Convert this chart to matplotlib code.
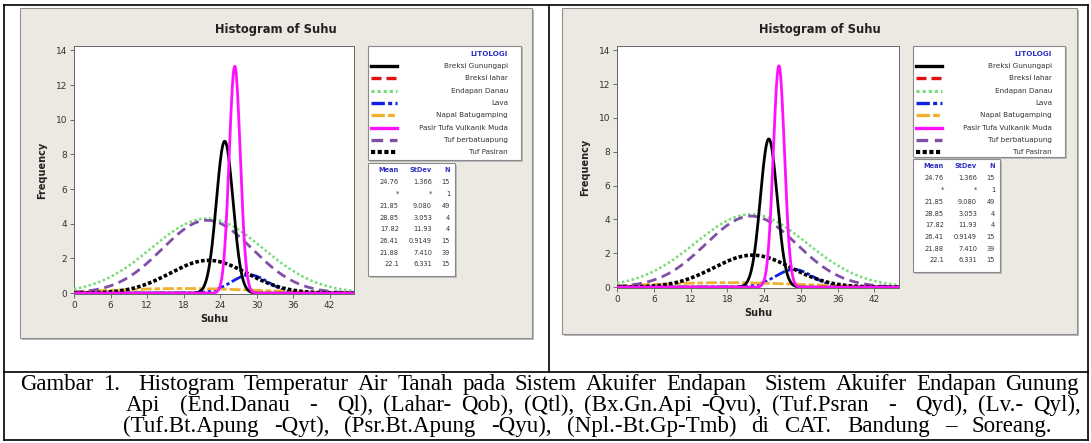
import re
import numpy as np
import matplotlib
matplotlib.use('Agg')
import matplotlib.pyplot as plt
from matplotlib.patches import Rectangle
from matplotlib.lines import Line2D

# fitted normal curves per rock unit (Minitab "Histogram of Suhu", with fit, grouped)
litologi = ['Breksi Gunungapi', 'Breksi lahar', 'Endapan Danau', 'Lava',
            'Napal Batugamping', 'Pasir Tufa Vulkanik Muda', 'Tuf berbatuapung',
            'Tuf Pasiran']
mean = [24.76, None, 21.85, 28.85, 17.82, 26.41, 21.88, 22.1]
stdev = [1.366, None, 9.080, 3.053, 11.93, 0.9149, 7.410, 6.331]
n_obs = [15, 1, 49, 4, 4, 15, 39, 15]
mean_txt = ['24.76', '*', '21.85', '28.85', '17.82', '26.41', '21.88', '22.1']
stdev_txt = ['1.366', '*', '9.080', '3.053', '11.93', '0.9149', '7.410', '6.331']
bin_width = 2.0

xticks = [0, 6, 12, 18, 24, 30, 36, 42]
yticks = [0, 2, 4, 6, 8, 10, 12, 14]

caption = [
    'Gambar 1.  Histogram Temperatur Air Tanah pada Sistem Akuifer Endapan  Sistem Akuifer Endapan Gunung',
    'Api  (End.Danau  -  Ql), (Lahar- Qob), (Qtl), (Bx.Gn.Api -Qvu), (Tuf.Psran  -  Qyd), (Lv.- Qyl),',
    '(Tuf.Bt.Apung -Qyt), (Psr.Bt.Apung -Qyu), (Npl.-Bt.Gp-Tmb) di CAT. Bandung \u2013 Soreang.',
]

colors = ['#000000', '#e01010', '#78dc78', '#1020e0', '#f0b030', '#ff10ff', '#8050a8', '#000000']
styles = ['-', (0, (3, 1.5)), (0, (1, 1)), (0, (4, 1, 1.2, 1)), (0, (4, 1, 2, 1)),
          '-', (0, (3.5, 2)), (0, (1, 0.6))]
widths = [2.0, 2.0, 1.8, 2.0, 2.0, 2.0, 2.0, 2.6]

W, H = 1091, 443
BG = '#ece9e2'


def fx(x):
    return x / W


def fy(y):
    return 1 - y / H


fig = plt.figure(figsize=(W / 100, H / 100), dpi=100)
fig.patch.set_facecolor('white')


def line(x0, y0, x1, y1, color='black', lw=1.2, ls='-'):
    fig.add_artist(Line2D([fx(x0), fx(x1)], [fy(y0), fy(y1)], color=color, lw=lw, ls=ls, zorder=3))


def box(x0, y0, x1, y1, **kw):
    fig.add_artist(Rectangle((fx(x0), fy(y1)), fx(x1) - fx(x0), fy(y0) - fy(y1),
                             transform=fig.transFigure, **kw))


def draw_panel(panel, axbox, leg, stat):
    px0, py0, px1, py1 = panel
    # shadowed gray background
    box(px0 + 2, py0 + 2, px1 + 2, py1 + 2, facecolor='#b8b8b8', edgecolor='none', zorder=-2)
    box(px0, py0, px1, py1, facecolor=BG, edgecolor='#909090', lw=0.8, zorder=-1)

    ax0, ay0, ax1, ay1 = axbox
    ax = fig.add_axes([fx(ax0), fy(ay1), fx(ax1) - fx(ax0), fy(ay0) - fy(ay1)])
    ax.set_zorder(1)
    ax.set_facecolor('white')
    xs = np.linspace(0, 46, 700)
    for i in range(len(litologi)):
        if mean[i] is None:
            continue
        ys = n_obs[i] * bin_width * np.exp(-0.5 * ((xs - mean[i]) / stdev[i]) ** 2) / (stdev[i] * np.sqrt(2 * np.pi))
        ax.plot(xs, ys, color=colors[i], ls=styles[i], lw=widths[i], zorder=3 + (i == 0 or i == 5))
    ax.set_xlim(0, 46)
    ax.set_ylim(-0.05, 14.25)
    ax.set_xticks(xticks)
    ax.set_yticks(yticks)
    ax.tick_params(direction='out', length=3, width=0.6, color='#555555',
                   labelsize=6.5, labelcolor='#333333', pad=2)
    for s in ax.spines.values():
        s.set_color('#666666')
        s.set_linewidth(0.7)
    ax.set_xlabel('Suhu', fontsize=7, fontweight='bold', color='#222222', labelpad=3)
    ax.set_ylabel('Frequency', fontsize=7, fontweight='bold', color='#222222', labelpad=6)
    fig.text(fx((px0 + px1) / 2), fy(30), 'Histogram of Suhu', ha='center', va='center',
             fontsize=8.3, fontweight='bold', color='#222222')

    # legend of rock units
    lx0, ly0, lx1, ly1 = leg
    box(lx0 + 1.5, ly0 + 1.5, lx1 + 1.5, ly1 + 1.5, facecolor='#bdbdbd', edgecolor='none', zorder=1)
    box(lx0, ly0, lx1, ly1, facecolor='white', edgecolor='#8a8a8a', lw=0.8, zorder=1.5)
    fig.text(fx(lx1 - 13), fy(ly0 + 8), 'LITOLOGI', ha='right', va='center',
             fontsize=5.2, fontweight='bold', color='#3030c0')
    for i, name in enumerate(litologi):
        yy = ly0 + 20 + i * 12.3
        line(lx0 + 3, yy, lx0 + 29, yy, color=colors[i], lw=widths[i] + 0.4, ls=styles[i])
        fig.text(fx(lx1 - 13), fy(yy), name, ha='right', va='center',
                 fontsize=5.2, color='#333333')

    # summary table
    sx0, sy0, sx1, sy1 = stat
    box(sx0 + 1.5, sy0 + 1.5, sx1 + 1.5, sy1 + 1.5, facecolor='#bdbdbd', edgecolor='none', zorder=1)
    box(sx0, sy0, sx1, sy1, facecolor='white', edgecolor='#8a8a8a', lw=0.8, zorder=1.5)
    cols = [sx0 + 31, sx0 + 64, sx0 + 82]
    for c, head in zip(cols, ['Mean', 'StDev', 'N']):
        fig.text(fx(c), fy(sy0 + 7), head, ha='right', va='center',
                 fontsize=4.8, fontweight='bold', color='#3030c0')
    for i in range(len(litologi)):
        yy = sy0 + 19.5 + i * 11.7
        for c, val in zip(cols, [mean_txt[i], stdev_txt[i], str(n_obs[i])]):
            fig.text(fx(c), fy(yy), val, ha='right', va='center',
                     fontsize=4.8, color='#333333')


draw_panel((20, 8, 532, 338), (74, 46, 354, 294), (368, 46, 521, 160), (368, 163, 455, 276))
draw_panel((562, 8, 1077, 334), (617, 46, 899, 288), (913, 46, 1065, 157), (913, 159, 1000, 272))

# table frame around the two charts and the caption
line(4, 5, 1088, 5)
line(4, 5, 4, 440)
line(1088, 5, 1088, 440)
line(4, 440, 1088, 440)
line(549, 5, 549, 372)
line(4, 372, 1088, 372)

# caption, spread word by word between the margins
renderer = fig.canvas.get_renderer()
cap_font = dict(family='Liberation Serif', fontsize=16.5, color='black')
cap_lines = [(caption[0], 20, 1079, 390), (caption[1], 126, 1081, 411), (caption[2], 123, 1052, 432)]
for text, xl, xr, yb in cap_lines:
    parts = re.split(r'( +)', text)
    words = [p for p in parts if p.strip()]
    gaps = [len(p) for p in parts if p and not p.strip()]
    arts = [fig.text(0, fy(yb), w, ha='left', va='baseline', **cap_font) for w in words]
    wpx = [a.get_window_extent(renderer).width for a in arts]
    space = (xr - xl - sum(wpx)) / sum(gaps)
    x = xl
    for k, a in enumerate(arts):
        a.set_x(fx(x))
        x += wpx[k]
        if k < len(gaps):
            x += gaps[k] * space

fig.savefig('out.png', dpi=100, facecolor='white')
